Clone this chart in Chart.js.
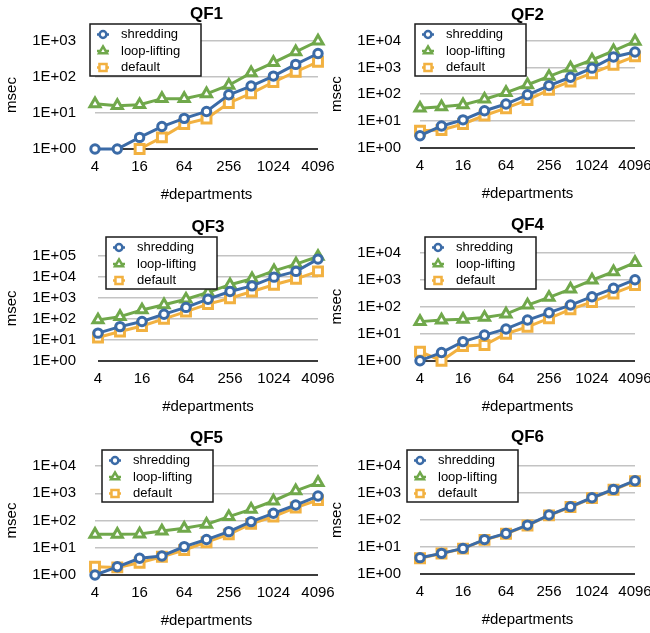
<!DOCTYPE html>
<html>
<head>
<meta charset="utf-8">
<title>QF1 - QF6</title>
<script src="https://cdn.jsdelivr.net/npm/chart.js@4.4.0/dist/chart.umd.min.js"></script>
<style>
  html, body { margin: 0; padding: 0; background: #fff; }
  #wrap { position: relative; width: 650px; height: 633px; overflow: hidden; }
  #wrap canvas { position: absolute; }
</style>
</head>
<body>
<div id="wrap"></div>
<script>
// data
const departments = ['4', '8', '16', '32', '64', '128', '256', '512', '1024', '2048', '4096'];
const seriesNames = ['shredding', 'loop-lifting', 'default'];

const qf1Shredding = [1, 1, 2.1, 4.2, 7.1, 11, 32, 56, 106, 224, 450];
const qf1Loop = [18, 16, 17, 25, 25, 34, 59, 130, 250, 500, 1000];
const qf1Default = [null, null, 1, 2.1, 4.9, 7, 19, 35, 72, 140, 265];

const qf2Shredding = [2.8, 6.5, 11, 24, 43, 95, 210, 430, 940, 2450, 3800];
const qf2Loop = [30, 34, 40, 65, 115, 225, 460, 940, 1900, 4200, 9400];
const qf2Default = [4.3, 4.6, 7.7, 16, 30, 61, 145, 300, 610, 1260, 2600];

const qf3Shredding = [21, 43, 75, 167, 350, 860, 2000, 3700, 9600, 18000, 69000];
const qf3Loop = [89, 128, 265, 465, 860, 1800, 4200, 8000, 19000, 40000, 92000];
const qf3Default = [13, 25, 46, 100, 220, 500, 960, 2000, 4200, 8000, 18000];

const qf4Shredding = [1, 2, 5.1, 8.9, 15, 32, 60, 115, 235, 480, 1000];
const qf4Loop = [28, 32, 34, 40, 53, 115, 220, 450, 970, 1970, 4300];
const qf4Default = [2.15, 1, 3.5, 3.8, 10, 18, 37, 80, 150, 310, 630];

const qf5Shredding = [1, 2, 4.1, 5, 11, 20, 39, 91, 184, 370, 790];
const qf5Loop = [31, 31, 32, 41, 52, 72, 138, 256, 520, 1220, 2450];
const qf5Default = [2, 1.9, 2.8, 4.7, 8.3, 16, 31, 75, 140, 300, 560];

const qf6Shredding = [4.1, 5.9, 9, 19, 32, 65, 152, 310, 660, 1340, 2800];
const qf6Loop = [null, null, null, null, null, null, null, null, null, null, null];
const qf6Default = [3.9, 5.8, 8.8, 18.5, 31, 63, 148, 300, 640, 1300, 2700];

const yMaxima = [1e3, 1e4, 1e5, 1e4, 1e4, 1e4];

// look
const FONT = '"Liberation Sans", Arial, Helvetica, sans-serif';
Chart.defaults.font.family = FONT;
Chart.defaults.color = '#000';

const styles = [
  { color: '#3b6ba7', pointStyle: 'circle', radius: 4.2, legendRadius: 3.4 },
  { color: '#70a84b', pointStyle: 'triangle', radius: 5.8, legendRadius: 4.6 },
  { color: '#f2b140', pointStyle: 'rect', radius: 6.3, legendRadius: 5 }
];

// where each panel sits (page px) and its plot area (panel px)
const panels = [
  { title: 'QF1', data: [qf1Shredding, qf1Loop, qf1Default], x: 0, y: 0, w: 340, h: 210,
    area: { l: 95, r: 318, t: 41, b: 149 }, titleY: 14, legend: { x: 90, y: 24 } },
  { title: 'QF2', data: [qf2Shredding, qf2Loop, qf2Default], x: 325, y: 0, w: 325, h: 210,
    area: { l: 95, r: 310, t: 40.7, b: 147.7 }, titleY: 15, legend: { x: 90, y: 24 } },
  { title: 'QF3', data: [qf3Shredding, qf3Loop, qf3Default], x: 0, y: 210, w: 340, h: 210,
    area: { l: 98, r: 318, t: 45.7, b: 151 }, titleY: 17, legend: { x: 106, y: 27 } },
  { title: 'QF4', data: [qf4Shredding, qf4Loop, qf4Default], x: 325, y: 210, w: 325, h: 210,
    area: { l: 95, r: 310, t: 42.7, b: 150.7 }, titleY: 15, legend: { x: 100, y: 27 } },
  { title: 'QF5', data: [qf5Shredding, qf5Loop, qf5Default], x: 0, y: 420, w: 340, h: 213,
    area: { l: 95, r: 318, t: 46, b: 155 }, titleY: 18, legend: { x: 102, y: 30 } },
  { title: 'QF6', data: [qf6Shredding, qf6Loop, qf6Default], x: 325, y: 420, w: 325, h: 213,
    area: { l: 95, r: 310, t: 45.7, b: 154.3 }, titleY: 17, legend: { x: 82, y: 30 } }
];

// title + boxed legend inside the plot
const panelDecor = {
  id: 'panelDecor',
  afterDatasetsDraw(chart, args, opts) {
    const ctx = chart.ctx;
    const area = chart.chartArea;
    ctx.save();
    ctx.fillStyle = '#000';
    ctx.font = 'bold 17px ' + FONT;
    ctx.textAlign = 'center';
    ctx.textBaseline = 'middle';
    ctx.fillText(opts.title, (area.left + area.right) / 2, opts.titleY);

    const lx = opts.legend.x, ly = opts.legend.y;
    ctx.fillStyle = '#fff';
    ctx.fillRect(lx, ly, 111, 52);
    ctx.strokeStyle = '#1a1a1a';
    ctx.lineWidth = 1.5;
    ctx.strokeRect(lx, ly, 111, 52);

    ctx.font = '13px ' + FONT;
    ctx.textAlign = 'left';
    chart.data.datasets.forEach((ds, i) => {
      const st = styles[i];
      const cy = ly + 10.5 + i * 16.5;
      ctx.strokeStyle = st.color;
      ctx.lineWidth = 2.5;
      ctx.beginPath();
      ctx.moveTo(lx + 7, cy);
      ctx.lineTo(lx + 19, cy);
      ctx.stroke();
      ctx.fillStyle = '#fff';
      Chart.helpers.drawPoint(ctx, { pointStyle: st.pointStyle, radius: st.legendRadius, rotation: 0, borderWidth: 2.4 }, lx + 13, cy);
      ctx.fillStyle = '#000';
      ctx.fillText(ds.label, lx + 31, cy);
    });
    ctx.restore();
  }
};

const wrap = document.getElementById('wrap');

panels.forEach((p, k) => {
  const canvas = document.createElement('canvas');
  canvas.width = p.w;
  canvas.height = p.h;
  canvas.style.left = p.x + 'px';
  canvas.style.top = p.y + 'px';
  wrap.appendChild(canvas);

  const yMax = yMaxima[k];

  new Chart(canvas, {
    type: 'line',
    data: {
      labels: departments,
      datasets: p.data.map((vals, i) => ({
        label: seriesNames[i],
        data: vals,
        borderColor: styles[i].color,
        backgroundColor: '#fff',
        pointBackgroundColor: '#fff',
        pointBorderColor: styles[i].color,
        pointStyle: styles[i].pointStyle,
        pointRadius: styles[i].radius,
        pointBorderWidth: 3,
        borderWidth: 3,
        tension: 0,
        clip: false
      }))
    },
    options: {
      responsive: false,
      animation: false,
      events: [],
      layout: { padding: { left: 0, top: p.area.t, right: p.w - p.area.r, bottom: 0 } },
      plugins: {
        legend: { display: false },
        tooltip: { enabled: false },
        panelDecor: { title: p.title, titleY: p.titleY, legend: p.legend }
      },
      scales: {
        x: {
          offset: false,
          grid: { display: false, drawTicks: false },
          border: { display: false },
          ticks: {
            autoSkip: false,
            maxRotation: 0,
            padding: 9,
            font: { size: 15 },
            callback: (v, i) => (i % 2 === 0 ? departments[i] : '')
          },
          title: { display: true, text: '#departments', font: { size: 15 }, padding: { top: 0, bottom: p.h - p.area.b - 55 } },
          afterFit: s => {
            s.height = p.h - p.area.b;
            s.paddingLeft = 0;
            s.paddingRight = 0;
          }
        },
        y: {
          type: 'logarithmic',
          min: 1,
          max: yMax,
          border: { display: false },
          grid: {
            drawTicks: false,
            color: c => (c.tick && c.tick.value === 1 ? '#3c3c3c' : '#c3c3c3'),
            lineWidth: c => (c.tick && c.tick.value === 1 ? 2 : 1.5)
          },
          ticks: {
            padding: p.area.l - 76,
            font: { size: 15 },
            callback: v => '1E+' + String(Math.round(Math.log10(v))).padStart(2, '0')
          },
          afterBuildTicks: s => {
            const t = [];
            for (let v = 1; v <= yMax; v *= 10) t.push({ value: v });
            s.ticks = t;
          },
          title: { display: true, text: 'msec', font: { size: 15 }, padding: { top: 3, bottom: 0 } },
          afterFit: s => {
            s.width = p.area.l;
          }
        }
      }
    },
    plugins: [panelDecor]
  });
});
</script>
</body>
</html>
